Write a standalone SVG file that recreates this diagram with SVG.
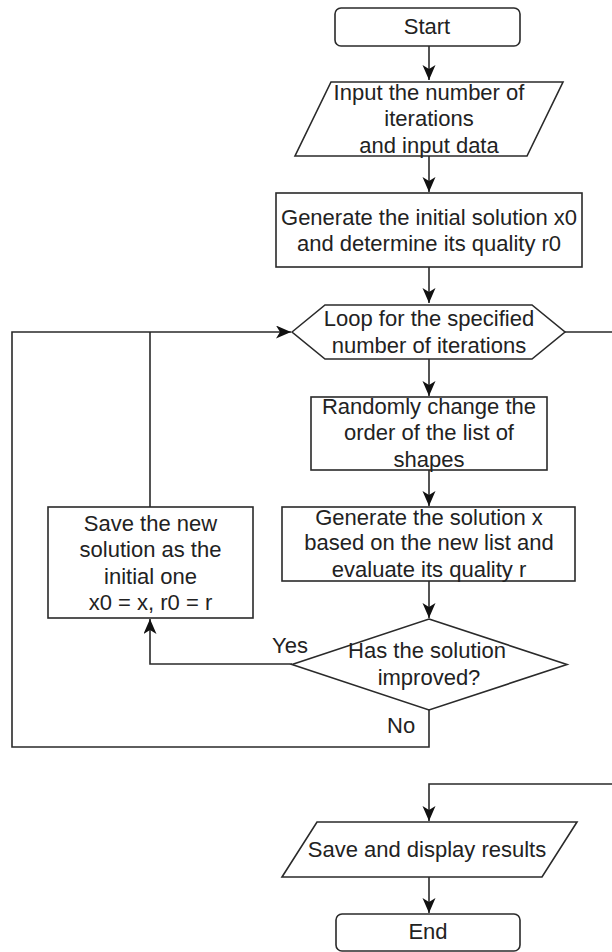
<svg xmlns="http://www.w3.org/2000/svg" width="612" height="952" viewBox="0 0 612 952">
  <style>
    .shape { fill: #ffffff; stroke: #2a2a2a; stroke-width: 1.6; }
    .conn { fill: none; stroke: #2a2a2a; stroke-width: 1.6; }
    text { font-family: "Liberation Sans", Arial, Helvetica, sans-serif; font-size: 22px; fill: #222222; }
    .c { text-anchor: middle; }
  </style>
  <defs>
    <marker id="arr" markerUnits="userSpaceOnUse" markerWidth="16" markerHeight="14" refX="15" refY="6.5" orient="auto">
      <path d="M0,0 L15,6.5 L0,13 L4,6.5 z" fill="#111111"/>
    </marker>
  </defs>

  <g id="connectors">
    <path class="conn" d="M429,46 V80" marker-end="url(#arr)"/>
    <path class="conn" d="M429,156 V192" marker-end="url(#arr)"/>
    <path class="conn" d="M429,267 V303" marker-end="url(#arr)"/>
    <path class="conn" d="M429,359 V396" marker-end="url(#arr)"/>
    <path class="conn" d="M429,470 V506" marker-end="url(#arr)"/>
    <path class="conn" d="M429,581 V618" marker-end="url(#arr)"/>
    <path class="conn" d="M292,664 H150 V619" marker-end="url(#arr)"/>
    <path class="conn" d="M429,710 V747 H12 V332 H291" marker-end="url(#arr)"/>
    <path class="conn" d="M150,507 V332"/>
    <path class="conn" d="M565,332 H614 V784 H429 V821" marker-end="url(#arr)"/>
    <path class="conn" d="M429,877 V913" marker-end="url(#arr)"/>
  </g>

  <g id="start">
    <rect class="shape" x="335" y="8" width="185" height="38" rx="6"/>
    <text class="c" x="427" y="34">Start</text>
  </g>

  <g id="input">
    <polygon class="shape" points="331,82 563,82 527,156 295,156"/>
    <text class="c" x="429" y="100">Input the number of</text>
    <text class="c" x="429" y="126">iterations</text>
    <text class="c" x="429" y="153">and input data</text>
  </g>

  <g id="init">
    <rect class="shape" x="276" y="193" width="306" height="74"/>
    <text class="c" x="429" y="225">Generate the initial solution x0</text>
    <text class="c" x="429" y="251">and determine its quality r0</text>
  </g>

  <g id="loop">
    <polygon class="shape" points="292,332 325,305 532,305 565,332 532,359 325,359"/>
    <text class="c" x="429" y="326">Loop for the specified</text>
    <text class="c" x="429" y="353">number of iterations</text>
  </g>

  <g id="randomly">
    <rect class="shape" x="311" y="397" width="236" height="73"/>
    <text class="c" x="429" y="414">Randomly change the</text>
    <text class="c" x="429" y="440">order of the list of</text>
    <text class="c" x="429" y="467">shapes</text>
  </g>

  <g id="generate">
    <rect class="shape" x="282" y="507" width="293" height="74"/>
    <text class="c" x="429" y="525">Generate the solution x</text>
    <text class="c" x="429" y="550">based on the new list and</text>
    <text class="c" x="429" y="577">evaluate its quality r</text>
  </g>

  <g id="improved">
    <polygon class="shape" points="429,619 567,664.5 429,710 292,664.5"/>
    <text class="c" x="427" y="658">Has the solution</text>
    <text class="c" x="429" y="685">improved?</text>
  </g>

  <g id="savenew">
    <rect class="shape" x="48" y="507" width="205" height="111"/>
    <text class="c" x="150.5" y="531">Save the new</text>
    <text class="c" x="150.5" y="557">solution as the</text>
    <text class="c" x="150.5" y="584">initial one</text>
    <text class="c" x="150.5" y="610">x0 = x, r0 = r</text>
  </g>

  <g id="labels">
    <text x="272" y="653">Yes</text>
    <text x="387" y="733">No</text>
  </g>

  <g id="savedisplay">
    <polygon class="shape" points="317,822 577,822 542,877 282,877"/>
    <text class="c" x="427" y="857">Save and display results</text>
  </g>

  <g id="end">
    <rect class="shape" x="336" y="914" width="184" height="37" rx="6"/>
    <text class="c" x="428" y="939">End</text>
  </g>
</svg>
